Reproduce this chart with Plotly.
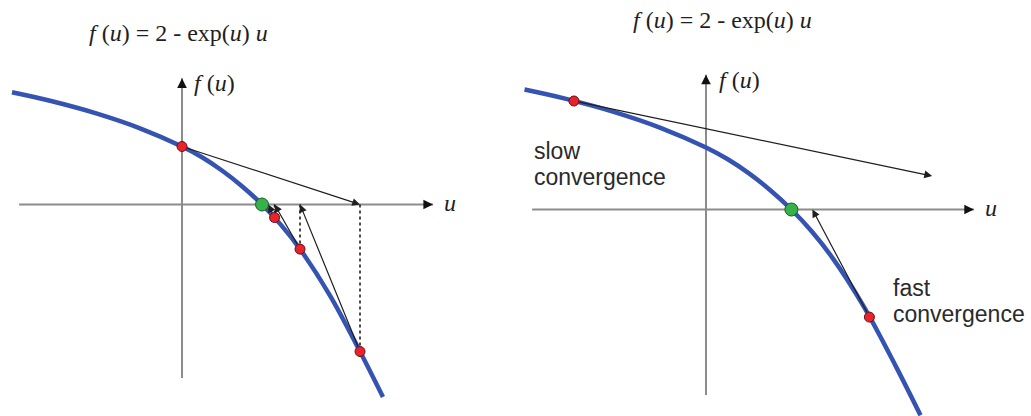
import plotly.graph_objects as go

# Hand-sketched shape of f(u) = 2 - exp(u) u, shared by both panels
curve_u = [-1.910, -1.483, -0.955, -0.472, 0.0, 0.225, 0.449, 0.674, 0.899, 1.112, 1.326, 1.663, 2.0, 2.258]
curve_f = [3.869, 3.576, 3.134, 2.628, 2.0, 1.628, 1.172, 0.631, 0.0, -0.703, -1.538, -3.141, -5.069, -6.638]

root_u = 0.899

# Left panel: Newton iterates u0..u4 and f at the first four
newton_u = [0.0, 2.0, 1.326, 1.04, 0.97]
newton_f = [2.0, -5.069, -1.538, -0.45]

# Right panel: a far start (slow) and a near start (fast)
slow_u, slow_f = -1.39, 3.50
slow_tip_u, slow_tip_f = 2.38, 1.08
fast_u, fast_f = 1.72, -3.47
fast_next_u = 1.12

title_text = "<i>f</i> (<i>u</i>) = 2 - exp(<i>u</i>) <i>u</i>"
ylabel_text = "<i>f</i> (<i>u</i>)"
xlabel_text = "<i>u</i>"

BLUE = "#3553b0"
RED = "#e8232b"
GREEN = "#35b34a"
AXIS_GRAY = "#8c8c8c"
INK = "#1f1f1f"
SERIF = "Liberation Serif, Times New Roman, serif"
SANS = "Liberation Sans, Arial, sans-serif"

# axis extents (data units) of the drawn coordinate cross
X_LO, X_HI = -1.83, 2.82
Y_LO, Y_HI = -5.98, 4.35

fig = go.Figure()
panels = [("x", "y"), ("x2", "y2")]

for xa, ya in panels:
    fig.add_trace(go.Scatter(x=curve_u, y=curve_f, mode="lines", xaxis=xa, yaxis=ya,
                             line=dict(color=BLUE, width=4.5, shape="spline", smoothing=1.0),
                             hoverinfo="skip"))

# dashed drops from the axis to the curve (left panel)
for k in range(1, 4):
    fig.add_trace(go.Scatter(x=[newton_u[k], newton_u[k]], y=[0, newton_f[k]], mode="lines",
                             xaxis="x", yaxis="y", line=dict(color=INK, width=1.6, dash="dot"),
                             hoverinfo="skip"))

marker_red = dict(color=RED, size=10, line=dict(color="#6b0f12", width=1))
marker_green = dict(color=GREEN, size=13, line=dict(color="#1c5a22", width=1))

fig.add_trace(go.Scatter(x=newton_u[:4], y=newton_f, mode="markers", xaxis="x", yaxis="y",
                         marker=marker_red, hoverinfo="skip"))
fig.add_trace(go.Scatter(x=[root_u], y=[0], mode="markers", xaxis="x", yaxis="y",
                         marker=marker_green, hoverinfo="skip"))
fig.add_trace(go.Scatter(x=[slow_u, fast_u], y=[slow_f, fast_f], mode="markers", xaxis="x2", yaxis="y2",
                         marker=marker_red, hoverinfo="skip"))
fig.add_trace(go.Scatter(x=[root_u], y=[0], mode="markers", xaxis="x2", yaxis="y2",
                         marker=marker_green, hoverinfo="skip"))

shapes = []
annotations = []
for xa, ya in panels:
    shapes.append(dict(type="line", xref=xa, yref=ya, x0=X_LO, x1=X_HI, y0=0, y1=0,
                       line=dict(color=AXIS_GRAY, width=2), layer="below"))
    shapes.append(dict(type="line", xref=xa, yref=ya, x0=0, x1=0, y0=Y_LO, y1=Y_HI,
                       line=dict(color=AXIS_GRAY, width=2), layer="below"))
    annotations.append(dict(xref=xa, yref=ya, x=X_HI, y=0, ax=-8, ay=0, text="", showarrow=True,
                            arrowhead=2, arrowsize=1.2, arrowwidth=1.6, arrowcolor="#111111"))
    annotations.append(dict(xref=xa, yref=ya, x=0, y=Y_HI, ax=0, ay=8, text="", showarrow=True,
                            arrowhead=2, arrowsize=1.2, arrowwidth=1.6, arrowcolor="#111111"))
    annotations.append(dict(xref=xa, yref=ya, x=0.115, y=4.18, text=ylabel_text, showarrow=False,
                            xanchor="left", yanchor="middle", font=dict(family=SERIF, size=24, color=INK)))
    annotations.append(dict(xref=xa, yref=ya, x=2.92, y=0.05, text=xlabel_text, showarrow=False,
                            xanchor="left", yanchor="middle", font=dict(family=SERIF, size=24, color=INK)))


def tangent(xa, ya, u0, f0, u1, f1):
    return dict(xref=xa, yref=ya, axref=xa, ayref=ya, x=u1, y=f1, ax=u0, ay=f0, text="",
                showarrow=True, arrowhead=2, arrowsize=1.3, arrowwidth=1.2, arrowcolor=INK,
                startstandoff=4)


for k in range(4):
    annotations.append(tangent("x", "y", newton_u[k], newton_f[k], newton_u[k + 1], 0))
annotations.append(tangent("x2", "y2", slow_u, slow_f, slow_tip_u, slow_tip_f))
annotations.append(tangent("x2", "y2", fast_u, fast_f, fast_next_u, 0))

# titles
annotations.append(dict(xref="paper", yref="paper", x=178 / 1031, y=1 - 33 / 416, text=title_text,
                        showarrow=False, xanchor="center", yanchor="middle",
                        font=dict(family=SERIF, size=24, color=INK)))
annotations.append(dict(xref="paper", yref="paper", x=722 / 1031, y=1 - 20 / 416, text=title_text,
                        showarrow=False, xanchor="center", yanchor="middle",
                        font=dict(family=SERIF, size=24, color=INK)))

# convergence notes
for txt, u, f in [("slow", -1.83, 1.89), ("convergence", -1.83, 1.05),
                  ("fast", 1.95, -2.52), ("convergence", 1.95, -3.36)]:
    annotations.append(dict(xref="x2", yref="y2", x=u, y=f, text=txt, showarrow=False,
                            xanchor="left", yanchor="middle", font=dict(family=SANS, size=23, color="#2a2a2a")))

hidden = dict(visible=False, showgrid=False, zeroline=False, fixedrange=True)
fig.update_layout(
    width=1031, height=416,
    margin=dict(l=0, r=0, t=0, b=0, pad=0),
    paper_bgcolor="white", plot_bgcolor="white",
    showlegend=False,
    shapes=shapes, annotations=annotations,
    xaxis=dict(domain=[0, 0.5], range=[-2.045, 3.747], **hidden),
    yaxis=dict(domain=[0, 1], range=[-7.293, 7.052], **hidden),
    xaxis2=dict(domain=[0.5, 1], range=[-2.005, 3.421], anchor="y2", **hidden),
    yaxis2=dict(domain=[0, 1], range=[-6.661, 6.758], anchor="x2", **hidden),
)

fig.write_html("out.html")
